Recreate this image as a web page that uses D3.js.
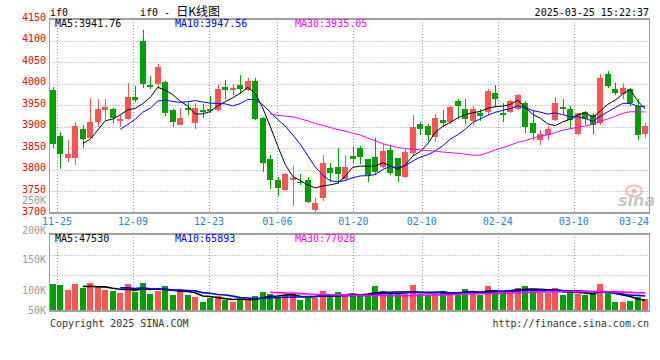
<!DOCTYPE html>
<html><head><meta charset="utf-8">
<script src="https://cdn.jsdelivr.net/npm/d3@7/dist/d3.min.js"></script>
<style>body{margin:0;background:#fff}svg{display:block}</style>
</head><body>
<svg id="c" width="660" height="360"></svg>
<script>
const dates = ["11-22","11-25","11-26","11-27","11-28","11-29","12-02","12-03","12-04","12-05","12-06","12-09","12-10","12-11","12-12","12-13","12-16","12-17","12-18","12-19","12-20","12-23","12-24","12-25","12-26","12-27","12-30","12-31","01-02","01-03","01-06","01-07","01-08","01-09","01-10","01-13","01-14","01-15","01-16","01-17","01-20","01-21","01-22","01-23","01-24","01-27","02-05","02-06","02-07","02-10","02-11","02-12","02-13","02-14","02-17","02-18","02-19","02-20","02-21","02-24","02-25","02-26","02-27","02-28","03-03","03-04","03-05","03-06","03-07","03-10","03-11","03-12","03-13","03-14","03-17","03-18","03-19","03-20","03-21","03-24"];
const open = [3986,3878.5,3827,3827,3896,3875,3911.5,3938.5,3941,3913,3919,3968,4099,3996,3998.5,4004.6,3940,3905,3944,3907.7,
3938.5,3941,3940,3992.3,3984.6,3996,3986,4007,3921.5,3824.6,3777,3754,3777,3773,3776,3707.7,3734.6,3805.4,3806,3780,
3832,3850,3824.6,3829,3806,3845.4,3827,3784.6,3839,3905.4,3901.5,3876,3914.6,3910,3959,3941,3913,3931,3934.6,3979,
3932,3934.6,3942,3956,3907.7,3869,3882,3915.4,3945.4,3942.3,3882.3,3934.6,3927,3907.7,4023,3988.5,3977,3988.5,3948.5,3883];
const high = [3992,3887,3868.5,3910,3905,3967,3965,3965,3944,3927,4002,3994.6,4124.6,4017,4044.6,4007,3941,3944,3958,3956,
3953,3971.5,3996,4009,4000,4021,4013,4013,3923,3834.6,3784.6,3793,3809,3790,3784.6,3734.6,3834.6,3815.4,3850,3834,
3854,3855.4,3826,3873,3859,3857.7,3828.5,3848.5,3927,3910,3905.4,3928.5,3940,3948.5,3964,3965,3948.5,3941,3988.5,3996,
3956,3962,3976,3959,3936,3892,3902,3969,3965.4,3948.5,3932,3937,3930.8,4021.5,4028.5,4002.3,4002,3990,3965.4,3907.7];
const low = [3850,3802,3819,3812,3850,3873,3899,3915,3908,3899,3915,3958,3990,3988.5,3987,3924,3899,3904,3927,3894.6,
3921,3931,3936,3965,3973,3977,3982,3915,3794.6,3756,3738.5,3751.5,3715.4,3765.4,3723,3703,3727,3771.5,3768,3776,
3815.4,3813,3773,3788.5,3804,3788.5,3771.5,3782,3833,3881,3867,3865.4,3900,3905.4,3919,3905.4,3904,3913,3927,3946,
3911.5,3932,3940,3884.6,3869,3857.7,3869,3914,3928.5,3896,3880,3905,3882.3,3903.8,3990,3974.6,3965.4,3948.5,3869,3875];
const close = [3860,3837,3837,3901,3871.5,3910,3942,3945,3921.5,3919,3968,3961.5,3998.5,3993,4038.5,3933,3910,3921.5,3938.5,3944.6,
3935,3937,3988.5,3985.4,3991,3987,4005.4,3919,3815.4,3777,3759,3791,3781,3770,3725.4,3723,3815.4,3792.3,3790,3806,
3825.4,3830.8,3788.5,3794.6,3844,3792,3785.4,3841,3898.5,3896,3881,3920,3908.5,3946,3947.7,3919,3941,3924.6,3982.3,3965.4,
3927,3959,3974.6,3899,3884.6,3882.3,3894,3954,3942.3,3915.4,3931,3919,3904,4013,3994,3979,3990.8,3954,3881,3901.5];
const volume = [118000,113000,91000,118000,101000,122000,101000,91000,88000,78000,118000,85500,122000,73600,88000,108700,69000,95600,69000,60000,
38000,59000,68000,48500,41000,48500,48500,68000,85000,73600,56000,70500,76500,48500,59000,59000,88000,56000,82000,75000,
73600,68000,76500,108700,86800,73600,73600,76500,113000,73600,68000,73600,86800,82000,82000,95600,82000,70500,108700,90000,
85000,92000,100000,110000,95600,81000,81000,100000,70500,82000,76500,70500,76500,120000,81000,38000,38000,42000,64000,55000];
const priceTicks = [4150,4100,4050,4000,3950,3900,3850,3800,3750,3700];
const dateTicks = ["11-25","12-09","12-23","01-06","01-20","02-10","02-24","03-10","03-24"];
const volTickLabels = ["250K","200K","150K","100K","50K"];
const volTickValues = [250000,200000,150000,100000,50000];
const maPeriods = [5,10,30];
const maColors = ["#000000","#0000ff","#ff00ff"];
const priceMALabels = ["MA5:3941.76","MA10:3947.56","MA30:3935.05"];
const volMALabels = ["MA5:47530","MA10:65893","MA30:77028"];
const titleCode = "if0";
const titleText = "日K线图";
const stamp = "2025-03-25 15:22:37";
const copyright = "Copyright 2025 SINA.COM";
const site = "http://finance.sina.com.cn";

const RED = "#ff5454", GREEN = "#00a000", GRID = "#9a9a9a", BORDER = "#a0a0a0", BLUE = "#1a86dc";
const MONO = "'DejaVu Sans Mono', 'Liberation Mono', monospace";
const svg = d3.select("#c");
const N = close.length;

const L = 49.5, R = 649.5, PT = 19, PB = 213, VT = 234, VB = 311;
const x = d3.scaleBand().domain(d3.range(N)).range([49, 649]).paddingInner(0.22).paddingOuter(0.11);
const xt = d3.scaleLinear().domain([0, N - 1]).range([49.4, 649.8]);
const y = d3.scaleLinear().domain([3700, 4150]).range([PB, PT]);
const yv = d3.scaleLinear().domain([0, 340000]).range([VB, VT]);
const yvLab = d3.scaleLinear().domain([50000, 100000, 150000, 200000, 250000]).range([314.3, 294.3, 263.3, 234.3, 204]);
const bw = Math.round(x.bandwidth());
const cx = i => Math.round(x(i) + x.bandwidth() / 2) + 0.5;
const bx = i => Math.round(x(i));

// grids
const g = svg.append("g").attr("stroke", GRID).attr("stroke-dasharray", "1,2").attr("stroke-width", 1);
priceTicks.slice(1, -1).forEach(v => {
  const yy = Math.round(y(v)) + 0.5;
  g.append("line").attr("x1", L).attr("x2", R).attr("y1", yy).attr("y2", yy);
});
dateTicks.slice(0, -1).forEach(d => {
  const xx = Math.round(xt(dates.indexOf(d))) + 0.5;
  g.append("line").attr("x1", xx).attr("x2", xx).attr("y1", PT).attr("y2", PB);
  g.append("line").attr("x1", xx).attr("x2", xx).attr("y1", VT).attr("y2", VB);
});
[255.5, 275.5].forEach(yy => g.append("line").attr("x1", L).attr("x2", R).attr("y1", yy).attr("y2", yy));

// watermark
const wm = svg.append("g").attr("opacity", 0.55);
wm.append("ellipse").attr("cx", 634).attr("cy", 191).attr("rx", 8).attr("ry", 5.5).attr("fill", "none").attr("stroke", "#f08080").attr("stroke-width", 2);
wm.append("circle").attr("cx", 634).attr("cy", 191).attr("r", 2.5).attr("fill", "#f08080");
wm.append("text").attr("x", 618).attr("y", 206).attr("font-family", "'DejaVu Sans', sans-serif").attr("font-style", "italic").attr("font-weight", "bold").attr("font-size", 16).attr("fill", "#9a9a9a").text("sina");

// candles
const up = i => close[i] >= open[i];
const cg = svg.append("g").attr("shape-rendering", "crispEdges");
d3.range(N).forEach(i => {
  const col = up(i) ? RED : GREEN;
  cg.append("line").attr("x1", cx(i)).attr("x2", cx(i)).attr("y1", y(high[i])).attr("y2", y(low[i])).attr("stroke", col);
  const top = Math.round(y(Math.max(open[i], close[i])));
  const bot = Math.round(y(Math.min(open[i], close[i])));
  cg.append("rect").attr("x", bx(i)).attr("width", bw).attr("y", top).attr("height", Math.max(1, bot - top)).attr("fill", col);
  const vt = Math.round(yv(volume[i]));
  cg.append("rect").attr("x", bx(i)).attr("width", bw).attr("y", vt).attr("height", VB - vt).attr("fill", col);
});

// moving averages
function ma(arr, p) { return arr.map((v, i) => i < p - 1 ? null : d3.mean(arr.slice(i - p + 1, i + 1))); }
maPeriods.forEach((p, k) => {
  const m = ma(close, p);
  svg.append("path").datum(m.map((v, i) => [i, v]).filter(d => d[1] !== null))
    .attr("fill", "none").attr("stroke", maColors[k]).attr("stroke-width", 1)
    .attr("d", d3.line().x(d => x(d[0]) + x.bandwidth() / 2).y(d => y(d[1])));
  const mv = ma(volume, p);
  svg.append("path").datum(mv.map((v, i) => [i, v]).filter(d => d[1] !== null))
    .attr("fill", "none").attr("stroke", maColors[k]).attr("stroke-width", 1.6)
    .attr("d", d3.line().x(d => x(d[0]) + x.bandwidth() / 2).y(d => yv(d[1])));
});

// borders
const b = svg.append("g").attr("fill", "none").attr("stroke", BORDER).attr("stroke-width", 1.5).attr("shape-rendering", "crispEdges");
b.append("rect").attr("x", L).attr("y", PT).attr("width", R - L).attr("height", PB - PT);
b.append("rect").attr("x", L).attr("y", VT).attr("width", R - L).attr("height", VB - VT);

// texts
const txt = (xx, yy, s, fill, anchor, size) => svg.append("text").attr("x", xx).attr("y", yy)
  .attr("font-family", MONO).attr("font-size", size || 10).attr("fill", fill).attr("text-anchor", anchor || "start").text(s);

priceTicks.forEach(v => txt(46, y(v) + 1.5, v, "#ff0000", "end"));
volTickLabels.forEach((s, k) => txt(46, yvLab(volTickValues[k]), s, "#999999", "end"));
dateTicks.forEach((d, k) => {
  const last = k === dateTicks.length - 1;
  txt(last ? 649 : xt(dates.indexOf(d)), 224.5, d, BLUE, last ? "end" : "middle");
});
const maX = [55, 175, 295];
priceMALabels.forEach((s, k) => txt(maX[k], 26.5, s, maColors[k]));
volMALabels.forEach((s, k) => txt(maX[k], 242, s, maColors[k]));

txt(50, 16, titleCode, "#000");
const t = svg.append("text").attr("x", 140).attr("y", 16).attr("font-family", MONO).attr("font-size", 10).attr("fill", "#000");
t.append("tspan").text(titleCode + " - ");
t.append("tspan").attr("font-family", "'Noto Sans CJK SC', sans-serif").attr("font-size", 12).text(titleText);
txt(649, 15.5, stamp, "#000", "end");
txt(50, 327, copyright, "#333");
txt(649, 327, site, "#333", "end");
</script>
</body></html>
